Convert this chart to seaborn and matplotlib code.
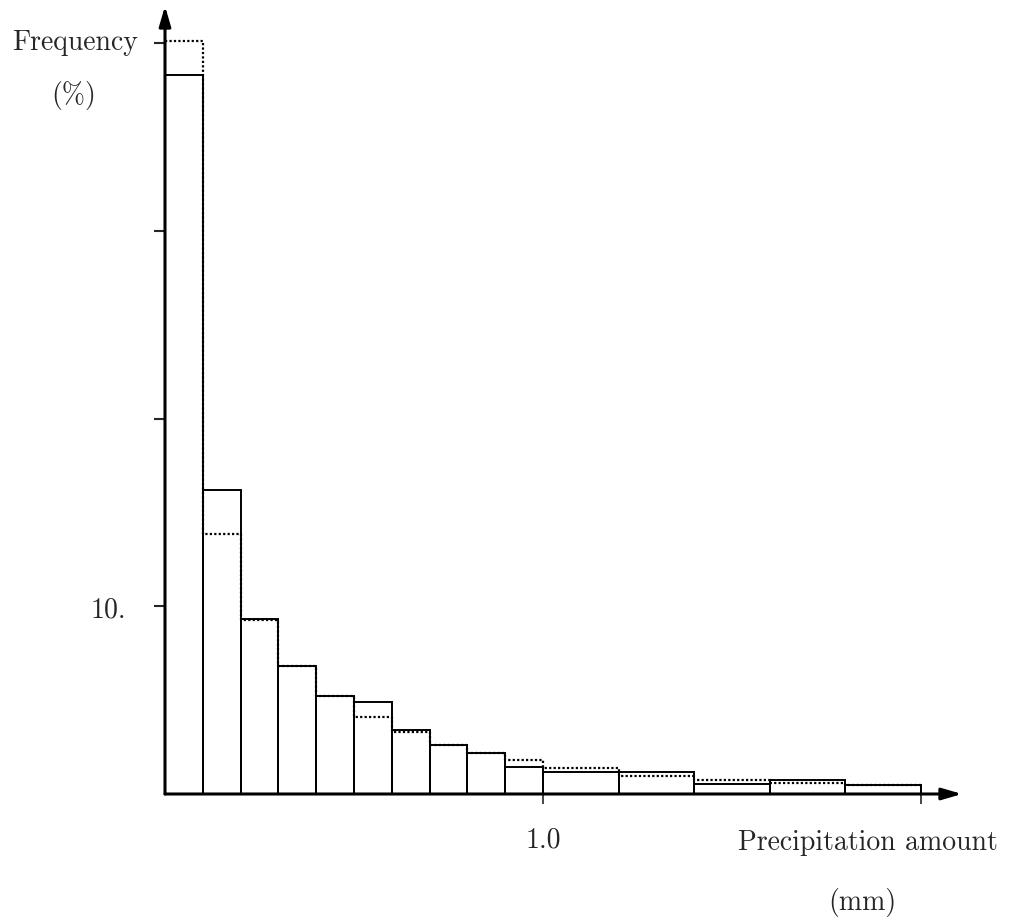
import numpy as np
import matplotlib
matplotlib.use("Agg")
import matplotlib.pyplot as plt
import seaborn as sns

# bin edges (mm): ten 0.1 mm bins, then five 0.2 mm bins
bin_edges = [0.0, 0.1, 0.2, 0.3, 0.4, 0.5, 0.6, 0.7, 0.8, 0.9, 1.0,
             1.2, 1.4, 1.6, 1.8, 2.0]
# frequencies (%)
freq_solid = [38.3, 16.2, 9.3, 6.8, 5.2, 4.9, 3.4, 2.6, 2.2, 1.45,
              1.17, 1.17, 0.53, 0.75, 0.48]
freq_dotted = [40.1, 13.85, 9.25, 6.8, 5.2, 4.1, 3.3, 2.6, 2.2, 1.8,
               1.39, 0.96, 0.75, 0.59, 0.48]
y_ticks = [10, 20, 30, 40]
x_ticks = [1.0, 2.0]

centers = [(a + b) / 2 for a, b in zip(bin_edges[:-1], bin_edges[1:])]

sns.set_style("white")
plt.rcParams["font.family"] = ["cmr10", "DejaVu Serif"]
plt.rcParams["axes.formatter.use_mathtext"] = True

W, H = 1013, 920
fig = plt.figure(figsize=(W / 100, H / 100), dpi=100)
# pixel geometry of the reference: origin at (165, 795), 378 px per mm, 18.77 px per %
x0, y0 = 165, 795
px_mm, px_pct = 378.0, 18.77
right, top = 962, 7
ax = fig.add_axes([x0 / W, (H - y0) / H, (right - x0) / W, (y0 - top) / H])
ax.set_xlim(0, (right - x0) / px_mm)
ax.set_ylim(0, (y0 - top) / px_pct)

sns.histplot(x=centers, weights=freq_solid, bins=bin_edges, element="bars",
             fill=False, color="black", linewidth=1.4, ax=ax)
sns.histplot(x=centers, weights=freq_dotted, bins=bin_edges, element="step",
             fill=False, color="black", linewidth=1.6, linestyle=(0, (1, 1)), ax=ax)

for s in ax.spines.values():
    s.set_visible(False)
ax.set_xlabel("")
ax.set_ylabel("")

# axes drawn as arrows
ax.annotate("", xy=(1.0, 0), xytext=(0, 0), xycoords="axes fraction",
            arrowprops=dict(arrowstyle="-|>,head_length=1.2,head_width=0.35",
                            color="black", lw=2.2, shrinkA=0, shrinkB=0))
ax.annotate("", xy=(0, 1.0), xytext=(0, 0), xycoords="axes fraction",
            arrowprops=dict(arrowstyle="-|>,head_length=1.2,head_width=0.35",
                            color="black", lw=2.2, shrinkA=0, shrinkB=0))

ax.set_yticks(y_ticks)
ax.set_yticklabels(["", "", "", ""])
ax.set_xticks(x_ticks)
ax.set_xticklabels(["", ""])
ax.tick_params(axis="y", direction="out", length=8, width=1.5, left=True)
ax.tick_params(axis="x", direction="inout", length=14, width=1.2, bottom=True)

# labels placed as in the reference
fs = 20
fig.text(75 / W, 1 - 43 / H, "Frequency", ha="center", va="center", fontsize=fs)
fig.text(74 / W, 1 - 95 / H, "(%)", ha="center", va="center", fontsize=fs)
fig.text(108 / W, 1 - 610 / H, "10.", ha="center", va="center", fontsize=fs)
fig.text(543 / W, 1 - 840 / H, "1.0", ha="center", va="center", fontsize=fs)
fig.text(868 / W, 1 - 843 / H, "Precipitation amount", ha="center", va="center", fontsize=fs)
fig.text(862 / W, 1 - 903 / H, "(mm)", ha="center", va="center", fontsize=fs)

fig.savefig("out.png", dpi=100)
